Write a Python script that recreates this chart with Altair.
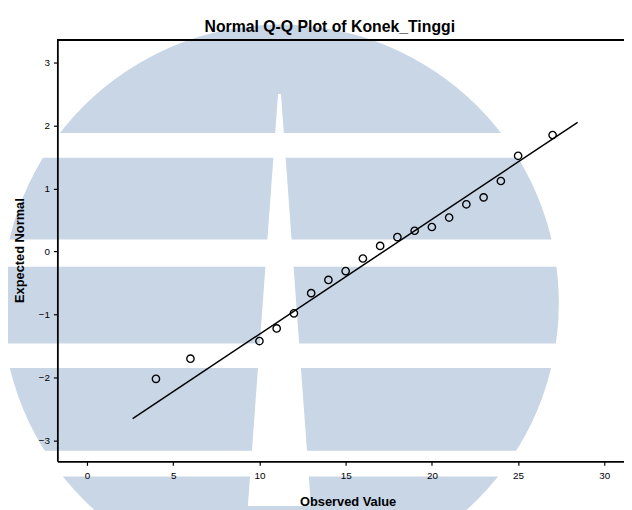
import altair as alt
import pandas as pd

# ---- data ----
observed = [4, 6, 10, 11, 12, 13, 14, 15, 16, 17, 18, 19, 20, 21, 22, 23, 24, 25, 27]
expected = [-2.02, -1.70, -1.42, -1.22, -0.98, -0.66, -0.45, -0.31, -0.11, 0.09,
            0.23, 0.33, 0.39, 0.54, 0.75, 0.86, 1.12, 1.52, 1.85]
line_x = [2.65, 28.45]
line_y = [-2.65, 2.05]
x_ticks = [0, 5, 10, 15, 20, 25, 30]
y_ticks = [-3, -2, -1, 0, 1, 2, 3]

# background watermark (in data units)
wm_x = [11.22]
wm_y = [-0.815]
band_y = [1.88, 0.19, -1.46, -3.16]
band_y2 = [1.49, -0.24, -1.85, -3.57]
gap_y = [2.50, -4.04]
gap_x = [11.08, 9.33]
gap_x2 = [11.25, 12.99]

W, H = 574, 427
FONT = "Liberation Sans"
xs = alt.Scale(domain=[-1.717, 31.14], nice=False, zero=False)
ys = alt.Scale(domain=[-3.33, 3.36], nice=False, zero=False)

x_axis = alt.Axis(values=x_ticks, format="d", title="Observed Value", titleX=294, titleY=41,
                  titleBaseline="middle", titleAlign="center", zindex=2, labelPadding=5)
y_axis = alt.Axis(values=y_ticks, format="d", title="Expected Normal", titleX=-38, titleY=213,
                  titleAngle=-90, titleBaseline="middle", titleAlign="center", zindex=2,
                  labelPadding=4)

pts = pd.DataFrame({"x": observed, "y": expected})
ln = pd.DataFrame({"x": line_x, "y": line_y})
wm = pd.DataFrame({"x": wm_x, "y": wm_y})
bands = pd.DataFrame({"y": band_y, "y2": band_y2, "x": [-20] * 4, "x2": [60] * 4})
gap = pd.DataFrame({"y": gap_y, "x": gap_x, "x2": gap_x2})

circle = alt.Chart(wm).mark_point(shape="circle", filled=True, opacity=1,
                                  color="#c8d6e6", strokeWidth=0).encode(
    x=alt.X("x:Q", scale=xs, axis=x_axis),
    y=alt.Y("y:Q", scale=ys, axis=y_axis),
    size=alt.value(318000),
)

band_layer = alt.Chart(bands).mark_rect(color="white").encode(
    x=alt.X("x:Q", scale=xs), x2="x2:Q",
    y=alt.Y("y:Q", scale=ys), y2="y2:Q",
)

gap_layer = alt.Chart(gap).mark_area(color="white", orient="horizontal", opacity=1).encode(
    y=alt.Y("y:Q", scale=ys),
    x=alt.X("x:Q", scale=xs), x2="x2:Q",
)

line = alt.Chart(ln).mark_line(color="black", strokeWidth=1.5).encode(
    x=alt.X("x:Q", scale=xs), y=alt.Y("y:Q", scale=ys)
)

points = alt.Chart(pts).mark_point(shape="circle", filled=False, color="black",
                                   strokeWidth=1.4, size=55, opacity=1).encode(
    x=alt.X("x:Q", scale=xs), y=alt.Y("y:Q", scale=ys)
)

top = alt.Chart(pts).mark_rule(color="black", strokeWidth=1.5).encode(
    x=alt.value(0), x2=alt.value(W), y=alt.value(0)
)

chart = alt.layer(circle, band_layer, gap_layer, line, points, top).properties(
    width=W, height=H,
    autosize=alt.AutoSizeParams(type="none"),
    padding={"left": 50, "top": 29, "right": 0, "bottom": 46},
    title=alt.TitleParams("Normal Q-Q Plot of Konek_Tinggi", font=FONT, fontSize=16,
                          fontWeight="bold", color="black", anchor="middle", dx=-11,
                          offset=2, dy=13, frame="group"),
).configure_view(stroke=None).configure_axis(
    grid=False, domainColor="black", domainWidth=1.8, tickColor="black",
    tickSize=4, tickWidth=1.2, labelFont=FONT, labelFontSize=10, labelColor="black",
    titleFont=FONT, titleFontSize=13, titleFontWeight="bold",
    titleColor="black",
)

chart.save("out.html", embed_options={"renderer": "svg", "actions": False})
